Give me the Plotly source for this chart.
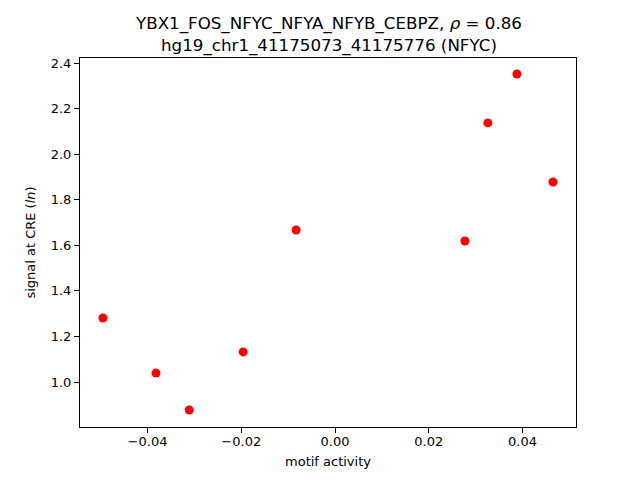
import plotly.graph_objects as go

motif_activity = [-0.0495, -0.0382, -0.0311, -0.0196, -0.0083, 0.0277, 0.0326, 0.0388, 0.0465]
signal = [1.281, 1.039, 0.877, 1.132, 1.667, 1.619, 2.137, 2.352, 1.878]

x_ticks = [-0.04, -0.02, 0.00, 0.02, 0.04]
x_tick_labels = ["\u22120.04", "\u22120.02", "0.00", "0.02", "0.04"]
y_ticks = [1.0, 1.2, 1.4, 1.6, 1.8, 2.0, 2.2, 2.4]
y_tick_labels = ["1.0", "1.2", "1.4", "1.6", "1.8", "2.0", "2.2", "2.4"]

fig = go.Figure()
fig.add_trace(go.Scatter(x=motif_activity, y=signal, mode="markers",
                         marker=dict(color="red", size=9, line=dict(width=0))))

axis_common = dict(showline=True, linecolor="black", linewidth=1, mirror=True,
                   ticks="outside", ticklen=5, tickcolor="black", showgrid=False,
                   zeroline=False, automargin=False,
                   tickfont=dict(family="DejaVu Sans", size=13, color="black"))

fig.update_layout(
    width=640, height=480,
    margin=dict(l=80, r=64, t=58, b=53),
    plot_bgcolor="white", paper_bgcolor="white",
    showlegend=False,
    font=dict(family="DejaVu Sans", color="black"),
    xaxis=dict(range=[-0.0544, 0.0514], tickvals=x_ticks, ticktext=x_tick_labels,
               ticklabelstandoff=-3,
               title=dict(text="motif activity", font=dict(size=13), standoff=9), **axis_common),
    yaxis=dict(range=[0.8025, 2.422], tickvals=y_ticks, ticktext=y_tick_labels,
               title=dict(text="signal at CRE (<i>ln</i>)", font=dict(size=13), standoff=12), **axis_common),
)

fig.add_annotation(text="YBX1_FOS_NFYC_NFYA_NFYB_CEBPZ, <i>\u03c1</i> = 0.86<br>hg19_chr1_41175073_41175776 (NFYC)",
                   xref="paper", yref="paper", x=0.5, y=1, yanchor="bottom", xanchor="center",
                   yshift=0, showarrow=False, font=dict(family="DejaVu Sans", size=16.7, color="black"))

fig.write_html("out.html", config={"displayModeBar": False},
               post_script="document.body.style.margin='0';document.body.style.padding='0';")
